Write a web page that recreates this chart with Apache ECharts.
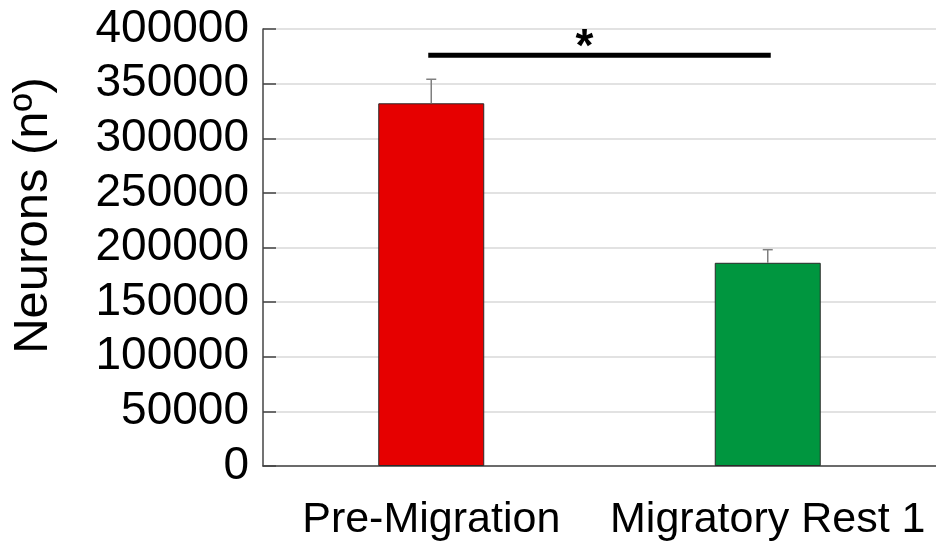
<!DOCTYPE html>
<html>
<head>
<meta charset="utf-8">
<script src="https://cdn.jsdelivr.net/npm/echarts@6/dist/echarts.min.js"></script>
<style>
  html, body { margin: 0; padding: 0; background: #ffffff; }
  #chart { width: 936px; height: 551px; }
</style>
</head>
<body>
<div id="chart"></div>
<script>
// Neuron counts per stage (mean and upper error)
const categories = ['Pre-Migration', 'Migratory Rest 1'];
const neuronMeans = [332000, 186000];
const neuronErrors = [22000, 12000];
const barColors = ['#e60000', '#00963f'];
const yTicks = [0, 50000, 100000, 150000, 200000, 250000, 300000, 350000, 400000];
// significance bracket between the two groups
const sigPair = [0, 1];
const sigLevel = 376000;
const sigMark = '*';

const FONT = 'Liberation Sans, Arial, sans-serif';

const chart = echarts.init(document.getElementById('chart'), null, { renderer: 'canvas' });

const option = {
  animation: false,
  backgroundColor: '#ffffff',
  grid: { left: 263, right: 0, top: 29, bottom: 85, containLabel: false, outerBoundsMode: 'none' },
  xAxis: {
    type: 'category',
    data: categories,
    boundaryGap: true,
    axisLine: { lineStyle: { color: '#444', width: 1.5 } },
    axisTick: { inside: true, length: 13, lineStyle: { color: '#444', width: 1.5 } },
    axisLabel: { color: '#000', fontFamily: FONT, fontSize: 43, margin: 33, interval: 0, hideOverlap: false }
  },
  yAxis: {
    type: 'value',
    min: yTicks[0],
    max: yTicks[yTicks.length - 1],
    interval: yTicks[1] - yTicks[0],
    name: 'Neurons (nº)',
    nameLocation: 'middle',
    nameRotate: 90,
    nameGap: 205,
    nameTextStyle: { color: '#000', fontFamily: FONT, fontSize: 49, padding: [0, 0, 0, 64] },
    axisLine: { show: true, lineStyle: { color: '#444', width: 1.5 } },
    axisTick: { show: true, inside: true, length: 13, lineStyle: { color: '#444', width: 1.5 } },
    axisLabel: { color: '#000', fontFamily: FONT, fontSize: 46, margin: 14,
                 formatter: v => String(v) },
    splitLine: { show: true, lineStyle: { color: '#d9d9d9', width: 1.5 } }
  },
  series: [
    {
      type: 'bar',
      data: neuronMeans.map((v, i) => ({
        value: v,
        itemStyle: { color: barColors[i], borderColor: '#2a2a2a', borderWidth: 1 }
      })),
      barWidth: '31.5%',
      z: 2
    },
    {
      // upper error whiskers
      type: 'custom',
      z: 3,
      data: neuronMeans.map((v, i) => [i, v, v + neuronErrors[i]]),
      renderItem: function (params, api) {
        const base = api.coord([api.value(0), api.value(1)]);
        const top = api.coord([api.value(0), api.value(2)]);
        const cap = 5;
        return {
          type: 'group',
          children: [
            { type: 'line', shape: { x1: base[0], y1: base[1], x2: top[0], y2: top[1] },
              style: { stroke: '#7f7f7f', lineWidth: 1.5 } },
            { type: 'line', shape: { x1: top[0] - cap, y1: top[1], x2: top[0] + cap, y2: top[1] },
              style: { stroke: '#7f7f7f', lineWidth: 1.5 } }
          ]
        };
      }
    },
    {
      // significance bar with star
      type: 'custom',
      z: 4,
      data: [[sigPair[0], sigPair[1], sigLevel]],
      renderItem: function (params, api) {
        const a = api.coord([api.value(0), api.value(2)]);
        const b = api.coord([api.value(1), api.value(2)]);
        return {
          type: 'group',
          children: [
            { type: 'line', shape: { x1: a[0] - 3, y1: a[1], x2: b[0] + 3, y2: b[1] },
              style: { stroke: '#000', lineWidth: 5 } },
            { type: 'text', x: (a[0] + b[0]) / 2 - 15, y: a[1] + 16,
              style: { text: sigMark, fill: '#000', font: 'bold 46px ' + FONT,
                       align: 'center', verticalAlign: 'bottom' } }
          ]
        };
      }
    }
  ]
};

chart.setOption(option);
</script>
</body>
</html>
